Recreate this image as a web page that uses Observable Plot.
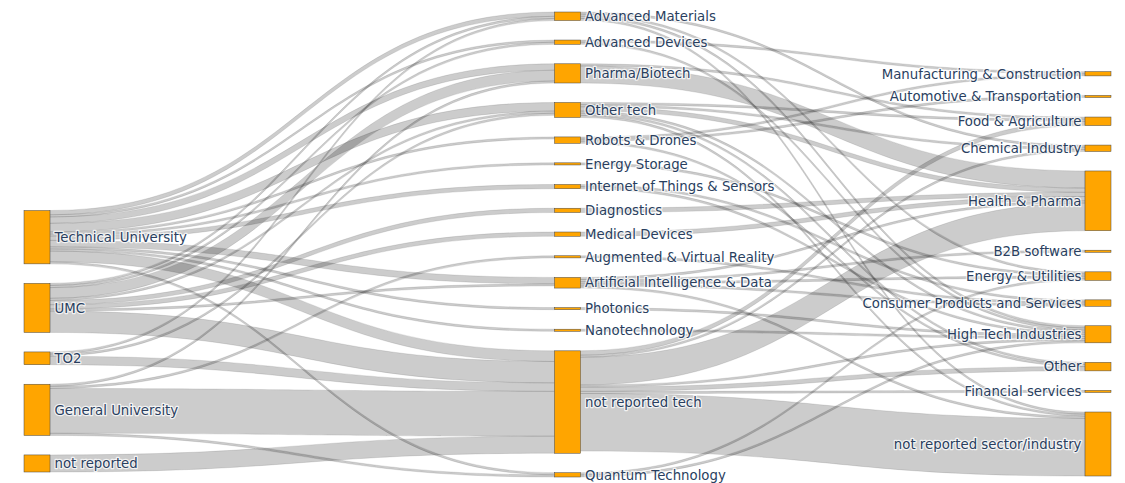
<!DOCTYPE html>
<html>
<head>
<meta charset="utf-8">
<script src="https://cdn.jsdelivr.net/npm/d3@7"></script>
<script src="https://cdn.jsdelivr.net/npm/@observablehq/plot@0.6"></script>
<style>
  html, body { margin: 0; padding: 0; background: #fff; }
</style>
</head>
<body>
<div id="chart"></div>
<script>
// ---------- DATA ----------
const sources = ["Technical University", "UMC", "TO2", "General University", "not reported"];

const technologies = [
  "Advanced Materials", "Advanced Devices", "Pharma/Biotech", "Other tech",
  "Robots & Drones", "Energy Storage", "Internet of Things & Sensors", "Diagnostics",
  "Medical Devices", "Augmented & Virtual Reality", "Artificial Intelligence & Data",
  "Photonics", "Nanotechnology", "not reported tech", "Quantum Technology"
];

const sectors = [
  "Manufacturing & Construction", "Automotive & Transportation", "Food & Agriculture",
  "Chemical Industry", "Health & Pharma", "B2B software", "Energy & Utilities",
  "Consumer Products and Services", "High Tech Industries", "Other",
  "Financial services", "not reported sector/industry"
];

// [source, technology, count]
const sourceTechLinks = [
  ["Technical University", "Advanced Materials", 2],
  ["Technical University", "Advanced Devices", 1],
  ["Technical University", "Pharma/Biotech", 3],
  ["Technical University", "Other tech", 4],
  ["Technical University", "Robots & Drones", 1],
  ["Technical University", "Energy Storage", 1],
  ["Technical University", "Internet of Things & Sensors", 2],
  ["Technical University", "Artificial Intelligence & Data", 3],
  ["Technical University", "Photonics", 1],
  ["Technical University", "Nanotechnology", 1],
  ["Technical University", "not reported tech", 5],
  ["Technical University", "Quantum Technology", 1],
  ["UMC", "Advanced Materials", 1],
  ["UMC", "Advanced Devices", 1],
  ["UMC", "Pharma/Biotech", 5],
  ["UMC", "Other tech", 1],
  ["UMC", "Diagnostics", 2],
  ["UMC", "Medical Devices", 2],
  ["UMC", "Artificial Intelligence & Data", 1],
  ["UMC", "not reported tech", 10],
  ["TO2", "Advanced Materials", 1],
  ["TO2", "Other tech", 1],
  ["TO2", "not reported tech", 4],
  ["General University", "Pharma/Biotech", 1],
  ["General University", "Augmented & Virtual Reality", 1],
  ["General University", "not reported tech", 21],
  ["General University", "Quantum Technology", 1],
  ["not reported", "not reported tech", 8]
];

// [technology, sector, count]
const techSectorLinks = [
  ["Advanced Materials", "Chemical Industry", 1],
  ["Advanced Materials", "Energy & Utilities", 1],
  ["Advanced Materials", "High Tech Industries", 1],
  ["Advanced Materials", "not reported sector/industry", 1],
  ["Advanced Devices", "Manufacturing & Construction", 1],
  ["Advanced Devices", "High Tech Industries", 1],
  ["Pharma/Biotech", "Food & Agriculture", 1],
  ["Pharma/Biotech", "Health & Pharma", 8],
  ["Other tech", "Food & Agriculture", 1],
  ["Other tech", "Chemical Industry", 1],
  ["Other tech", "Health & Pharma", 2],
  ["Other tech", "High Tech Industries", 1],
  ["Other tech", "Other", 1],
  ["Other tech", "not reported sector/industry", 1],
  ["Robots & Drones", "Manufacturing & Construction", 1],
  ["Robots & Drones", "Automotive & Transportation", 1],
  ["Robots & Drones", "Other", 1],
  ["Energy Storage", "Energy & Utilities", 1],
  ["Internet of Things & Sensors", "Consumer Products and Services", 1],
  ["Internet of Things & Sensors", "High Tech Industries", 1],
  ["Diagnostics", "Health & Pharma", 2],
  ["Medical Devices", "Health & Pharma", 2],
  ["Augmented & Virtual Reality", "Consumer Products and Services", 1],
  ["Artificial Intelligence & Data", "Health & Pharma", 1],
  ["Artificial Intelligence & Data", "B2B software", 1],
  ["Artificial Intelligence & Data", "Energy & Utilities", 1],
  ["Artificial Intelligence & Data", "Consumer Products and Services", 1],
  ["Artificial Intelligence & Data", "not reported sector/industry", 1],
  ["Photonics", "High Tech Industries", 1],
  ["Nanotechnology", "High Tech Industries", 1],
  ["not reported tech", "Food & Agriculture", 2],
  ["not reported tech", "Chemical Industry", 1],
  ["not reported tech", "Health & Pharma", 13],
  ["not reported tech", "High Tech Industries", 1],
  ["not reported tech", "Other", 2],
  ["not reported tech", "Financial services", 1],
  ["not reported tech", "not reported sector/industry", 27],
  ["Quantum Technology", "Energy & Utilities", 1],
  ["Quantum Technology", "High Tech Industries", 1]
];

// ---------- LAYOUT (computed from the data) ----------
const W = 1125, H = 483;
const TOP = 12, BOTTOM = 477;      // vertical extent of the node columns
const PAD_PX = 19.5;               // gap between nodes
const NODE_PX = 26;                // node width
const X_LEFT = 37, X_RIGHT = 1098; // centres of first / last column
const COL_BOTTOM_GAP = [5, 0, 1];  // how far each column stops above the bottom (px)

const columns = [sources, technologies, sectors];
const nodeMap = new Map();
columns.forEach((names, col) => names.forEach((name, index) =>
  nodeMap.set(name, {name, col, index, inLinks: [], outLinks: []})));

const links = [...sourceTechLinks, ...techSectorLinks].map(([s, t, v], id) =>
  ({id, source: nodeMap.get(s), target: nodeMap.get(t), value: v}));
links.forEach(l => { l.source.outLinks.push(l); l.target.inLinks.push(l); });

const nodes = [...nodeMap.values()];
nodes.forEach(n => n.value = Math.max(d3.sum(n.inLinks, l => l.value), d3.sum(n.outLinks, l => l.value)));

const span = BOTTOM - TOP;
const colNodes = columns.map(names => names.map(n => nodeMap.get(n)));
const k = d3.min(colNodes, c => (span - (c.length - 1) * PAD_PX) / d3.sum(c, n => n.value));
const pad = PAD_PX / k;
const yMax = span / k;

colNodes.forEach((c, ci) => {
  const total = d3.sum(c, n => n.value) + (c.length - 1) * pad;
  let y = Math.max(0, yMax - COL_BOTTOM_GAP[ci] / k - total);
  for (const n of c) { n.y0 = y; n.y1 = y + n.value; y = n.y1 + pad; }
});

nodes.forEach(n => {
  let y = n.y0;
  n.outLinks.sort((a, b) => a.target.index - b.target.index)
    .forEach(l => { l.sy0 = y; y += l.value; l.sy1 = y; });
  y = n.y0;
  n.inLinks.sort((a, b) => a.source.index - b.source.index)
    .forEach(l => { l.ty0 = y; y += l.value; l.ty1 = y; });
});

const half = (NODE_PX / 2) / ((X_RIGHT - X_LEFT) / 2);

const ribbons = links.flatMap(l => [
  {id: l.id, x: l.source.col + half, top: l.sy0, bottom: l.sy1},
  {id: l.id, x: l.target.col - half, top: l.ty0, bottom: l.ty1}
]);

const font = {fontFamily: "DejaVu Sans, Verdana, sans-serif", fontSize: 13.3, fill: "#2a3f5f",
  stroke: "white", strokeWidth: 2.5, strokeOpacity: 0.75};

const chart = Plot.plot({
  width: W,
  height: H,
  marginLeft: X_LEFT,
  marginRight: W - X_RIGHT,
  marginTop: TOP,
  marginBottom: H - BOTTOM,
  x: {domain: [0, columns.length - 1], axis: null},
  y: {domain: [0, yMax], reverse: true, axis: null},
  marks: [
    Plot.area(ribbons, {
      x1: "x", y1: "top", y2: "bottom", z: "id", curve: "bump-x",
      fill: "black", fillOpacity: 0.2,
      stroke: "#444", strokeOpacity: 0.28, strokeWidth: 0.5
    }),
    Plot.rect(nodes, {
      x1: d => d.col - half, x2: d => d.col + half, y1: "y0", y2: "y1",
      fill: "orange", stroke: "#444", strokeWidth: 0.5
    }),
    Plot.text(nodes.filter(d => d.col < columns.length - 1), {
      x: d => d.col + half, y: d => (d.y0 + d.y1) / 2, text: "name",
      textAnchor: "start", dx: 4, ...font
    }),
    Plot.text(nodes.filter(d => d.col === columns.length - 1), {
      x: d => d.col - half, y: d => (d.y0 + d.y1) / 2, text: "name",
      textAnchor: "end", dx: -4, ...font
    })
  ]
});

document.getElementById("chart").append(chart);
</script>
</body>
</html>
